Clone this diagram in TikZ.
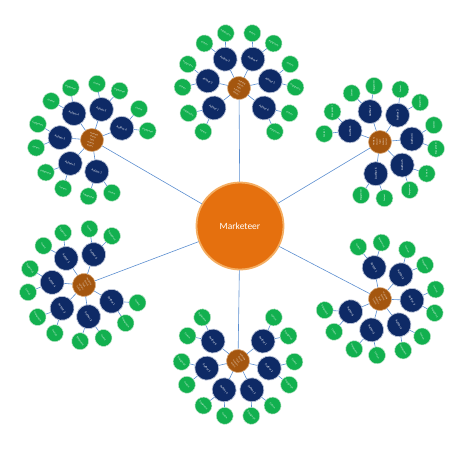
\documentclass[tikz,border=0pt]{standalone}
\usepackage{fontspec}
\setmainfont{Carlito}
\usetikzlibrary{calc}
\definecolor{mkorange}{HTML}{E5700E}
\definecolor{mkrim}{HTML}{F4AE63}
\definecolor{hubbrown}{HTML}{A4560F}
\definecolor{hubrim}{HTML}{D9A878}
\definecolor{authnavy}{HTML}{0E2A66}
\definecolor{authrim}{HTML}{B9C2D6}
\definecolor{kwgreen}{HTML}{12B04F}
\definecolor{kwrim}{HTML}{BFE5CB}
\definecolor{linkblue}{HTML}{5B8ED0}

\begin{document}
\begin{tikzpicture}[x=1pt,y=1pt,line cap=round,line join=round,
  marketeer/.style={circle,minimum size=87pt,fill=mkorange,draw=mkrim,line width=1.8pt,text=white,font=\fontsize{9.5}{11}\selectfont},
  hub/.style={circle,minimum size=23pt,inner sep=0pt,fill=hubbrown,draw=hubrim,line width=0.6pt,text=white,align=center,font=\fontsize{1.9}{3.1}\selectfont},
  author/.style={circle,minimum size=24pt,inner sep=0pt,fill=authnavy,draw=authrim,line width=0.7pt,text=white,font=\fontsize{3}{3.5}\selectfont},
  keyword/.style={circle,minimum size=17pt,inner sep=0pt,fill=kwgreen,draw=kwrim,line width=0.5pt,text=white,font=\fontsize{2.2}{2.5}\selectfont},
  link/.style={draw=linkblue,line width=0.6pt}]
\useasboundingbox (0,-451) rectangle (473,0);
\node[marketeer] (M) at (240,-226) {Marketeer};
% one cluster per hub: number/x/y/direction of the Marketeer/text angle
\foreach \h/\hx/\hy/\base/\rot in {1/239/88/270/-30, 2/92/140/-30/-20, 3/380/142/211/90,
    4/84/285/21/-55, 5/380/299/152/-60, 6/238/361/90/-50}{
  \node[hub,rotate=\rot] (H\h) at (\hx,-\hy) {Marketing\\Channel\\Target\\Audience\\Content};
  \draw[link] (M) -- (H\h);
  \foreach \k in {1,...,6}{
    \pgfmathsetmacro\a{\base-51.43*\k}
    \node[author,rotate=\rot] (A\h-\k) at ($(H\h)+(\a:32)$) {Author \k};
    \draw[link] (H\h) -- (A\h-\k);
    \node[keyword,rotate=\rot] (K\h-\k-1) at ($(A\h-\k)+(\a+27:26)$) {Content};
    \node[keyword,rotate=\rot] (K\h-\k-2) at ($(A\h-\k)+(\a-27:26)$) {Engagement};
    \draw[link] (A\h-\k) -- (K\h-\k-1);
    \draw[link] (A\h-\k) -- (K\h-\k-2);
  }
}
\end{tikzpicture}
\end{document}
